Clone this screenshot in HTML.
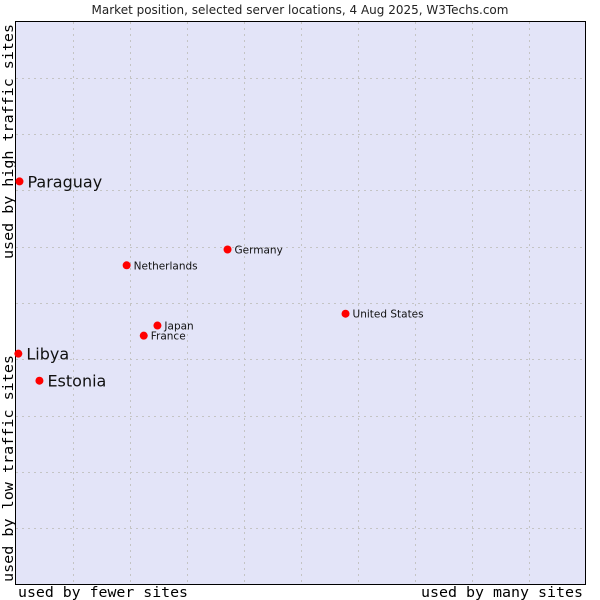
<!DOCTYPE html>
<html><head><meta charset="utf-8"><style>
body{margin:0;background:#fff;width:600px;height:600px;overflow:hidden}
svg{display:block}
</style></head><body>
<svg id="chart" width="600" height="600" xmlns="http://www.w3.org/2000/svg">
<text x="300" y="14" text-anchor="middle" font-family="DejaVu Sans, sans-serif" font-size="12" fill="#222">Market position, selected server locations, 4 Aug 2025, W3Techs.com</text>
<rect x="15.5" y="21.5" width="570" height="563" fill="#e3e4f8" stroke="#000" stroke-width="1"/>
<g id="grid"></g>
<g id="points"></g>
<text x="18" y="597" textLength="170" lengthAdjust="spacingAndGlyphs" font-family="DejaVu Sans Mono, monospace" font-size="14.5" fill="#000">used by fewer sites</text>
<text x="421" y="597" textLength="162" lengthAdjust="spacingAndGlyphs" font-family="DejaVu Sans Mono, monospace" font-size="14.5" fill="#000">used by many sites</text>
<text transform="translate(13,582) rotate(-90)" textLength="227" lengthAdjust="spacingAndGlyphs" font-family="DejaVu Sans Mono, monospace" font-size="14.5" fill="#000">used by low traffic sites</text>
<text transform="translate(13,259) rotate(-90)" textLength="235" lengthAdjust="spacingAndGlyphs" font-family="DejaVu Sans Mono, monospace" font-size="14.5" fill="#000">used by high traffic sites</text>
</svg>
<script>
const names=["Paraguay","Libya","Estonia","Netherlands","Germany","United States","Japan","France"];
const xVals=[0.7,0.5,4.2,19.5,37.2,57.9,24.9,22.5];
const yVals=[71.6,41.0,36.2,56.7,59.5,48.1,46.0,44.2];
const big=[true,true,true,false,false,false,false,false];
const NS="http://www.w3.org/2000/svg";
const X0=15.5,W=570,Y0=584.5,H=563;
const sx=v=>X0+v/100*W, sy=v=>Y0-v/100*H;
const grid=document.getElementById('grid');
for(let i=1;i<10;i++){
  const vx=document.createElementNS(NS,'line');
  
  
  const x=Math.round(sx(i*10))+0.5;
  vx.setAttribute('x1',x);vx.setAttribute('x2',x);vx.setAttribute('y1',22);vx.setAttribute('y2',584);
  vx.setAttribute('stroke','#c4c4c4');vx.setAttribute('stroke-dasharray','2,4');
  grid.appendChild(vx);
  const hy=document.createElementNS(NS,'line');
  
  
  const y=Math.round(sy(i*10))+0.5;
  hy.setAttribute('y1',y);hy.setAttribute('y2',y);hy.setAttribute('x1',16);hy.setAttribute('x2',585);
  hy.setAttribute('stroke','#c4c4c4');hy.setAttribute('stroke-dasharray','2,4');
  grid.appendChild(hy);
}
const pts=document.getElementById('points');
names.forEach((n,i)=>{
  const cx=sx(xVals[i]),cy=sy(yVals[i]);
  const d=document.createElementNS(NS,'circle');
  
  
  d.setAttribute('cx',cx);d.setAttribute('cy',cy);d.setAttribute('r',4);
  d.setAttribute('fill','#f00');
  pts.appendChild(d);
  const t=document.createElementNS(NS,'text');
  
  
  t.setAttribute('x',cx+(big[i]?8:7));
  t.setAttribute('y',cy+(big[i]?6:4));
  t.setAttribute('font-family','DejaVu Sans, sans-serif');
  t.setAttribute('font-size',big[i]?16:10.5);
  t.setAttribute('fill','#111');
  t.textContent=n;
  pts.appendChild(t);
});
</script>
</body></html>
